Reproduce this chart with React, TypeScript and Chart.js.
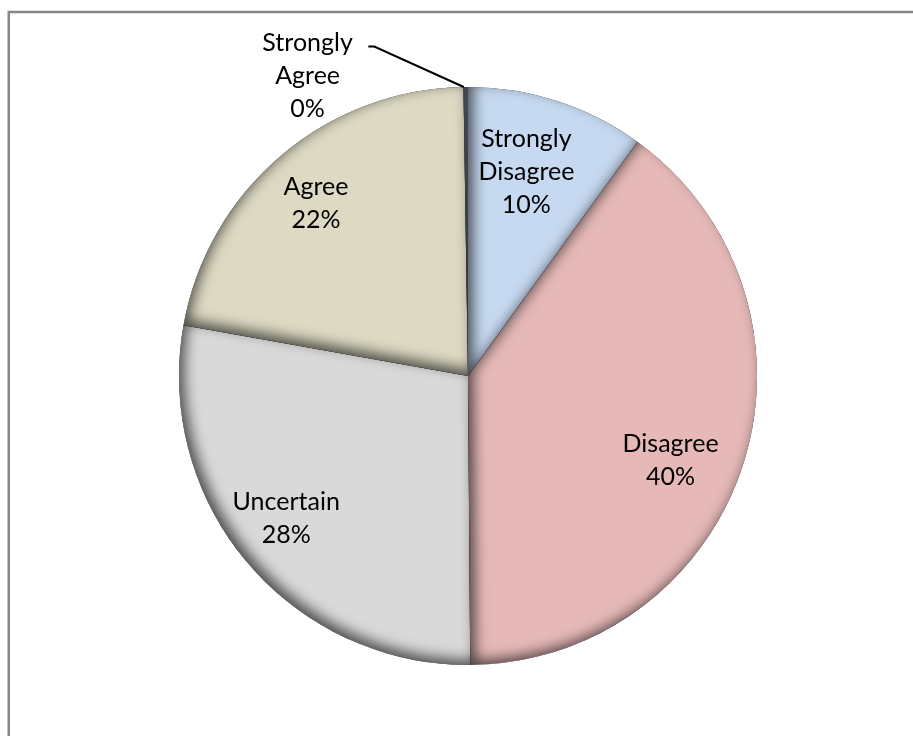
import React, { useEffect, useRef } from "react";
import { Chart, registerables } from "chart.js";

Chart.register(...registerables);

const categories = ["Strongly Disagree", "Disagree", "Uncertain", "Agree", "Strongly Agree"];
const labelLines = [["Strongly", "Disagree"], ["Disagree"], ["Uncertain"], ["Agree"], ["Strongly", "Agree"]];
const values = [10, 40, 28, 22, 0.25];
const percentLabels = ["10%", "40%", "28%", "22%", "0%"];
const colors = ["#c6d9f1", "#e6b9b8", "#d9d9d9", "#ddd9c3", "#8a96a6"];

// label placement styling (radial fraction, angle shift in degrees)
const labelRadius = [0.735, 0.76, 0.8, 0.795, 1];
const labelAngleShift = [-2, 5, 2, -1, 0];

const FONT = "25px Lato, 'Open Sans', sans-serif";
const LINE_H = 33;

const framePlugin = {
  id: "frame",
  beforeDraw(chart: any) {
    const ctx = chart.ctx;
    ctx.save();
    ctx.fillStyle = "#ffffff";
    ctx.fillRect(0, 0, chart.width, chart.height);
    ctx.strokeStyle = "#878787";
    ctx.lineWidth = 2.5;
    ctx.beginPath();
    ctx.moveTo(8.75, chart.height + 5);
    ctx.lineTo(8.75, 12);
    ctx.lineTo(chart.width + 5, 12);
    ctx.stroke();
    ctx.restore();
  },
};

const bevelPlugin = {
  id: "bevel",
  afterDatasetsDraw(chart: any) {
    const ctx = chart.ctx;
    const meta = chart.getDatasetMeta(0);
    meta.data.forEach((arc: any) => {
      const { x, y, startAngle, endAngle, outerRadius } = arc.getProps(
        ["x", "y", "startAngle", "endAngle", "outerRadius"],
        true
      );
      ctx.save();
      ctx.beginPath();
      ctx.moveTo(x, y);
      ctx.arc(x, y, outerRadius, startAngle, endAngle);
      ctx.closePath();
      ctx.clip();
      ctx.beginPath();
      ctx.rect(-2000, -2000, 5000, 5000);
      ctx.moveTo(x, y);
      ctx.arc(x, y, outerRadius, endAngle, startAngle, true);
      ctx.closePath();
      ctx.shadowColor = "rgba(0,0,0,0.65)";
      ctx.shadowBlur = 14;
      ctx.shadowOffsetX = 5;
      ctx.shadowOffsetY = -5;
      ctx.fillStyle = "rgba(0,0,0,1)";
      ctx.fill("evenodd");
      ctx.restore();
    });
  },
};

const labelPlugin = {
  id: "sliceLabels",
  afterDraw(chart: any) {
    const ctx = chart.ctx;
    const meta = chart.getDatasetMeta(0);
    ctx.save();
    ctx.font = FONT;
    ctx.fillStyle = "#000000";
    ctx.textAlign = "center";
    ctx.textBaseline = "middle";
    meta.data.forEach((arc: any, i: number) => {
      const { x, y, startAngle, endAngle, outerRadius } = arc.getProps(
        ["x", "y", "startAngle", "endAngle", "outerRadius"],
        true
      );
      const mid = (startAngle + endAngle) / 2 + (labelAngleShift[i] * Math.PI) / 180;
      const lines = [...labelLines[i], percentLabels[i]];
      let lx: number, ly: number;
      if (values[i] < 2) {
        const ex = x + Math.cos(mid) * outerRadius;
        const ey = y + Math.sin(mid) * outerRadius;
        const bx = x - outerRadius * 0.345;
        const by = y - outerRadius * 1.14;
        ctx.strokeStyle = "#000000";
        ctx.lineWidth = 2;
        ctx.beginPath();
        ctx.moveTo(ex - 2, ey);
        ctx.lineTo(bx + 6, by);
        ctx.lineTo(bx, by);
        ctx.stroke();
        lx = x - outerRadius * 0.555;
        ly = y - outerRadius * 1.04;
      } else {
        const rf = labelRadius[i];
        lx = x + Math.cos(mid) * outerRadius * rf;
        ly = y + Math.sin(mid) * outerRadius * rf;
      }
      const top = ly - ((lines.length - 1) * LINE_H) / 2;
      lines.forEach((t, k) => ctx.fillText(t, lx, top + k * LINE_H));
    });
    ctx.restore();
  },
};

export default function App() {
  const ref = useRef<HTMLCanvasElement | null>(null);
  useEffect(() => {
    if (!ref.current) return;
    const chart = new Chart(ref.current, {
      type: "pie",
      data: {
        labels: categories,
        datasets: [
          {
            data: values,
            backgroundColor: colors,
            borderWidth: 0,
          },
        ],
      },
      options: {
        animation: false,
        responsive: false,
        layout: { padding: { left: 179, right: 156, top: 87, bottom: 71 } },
        plugins: {
          legend: { display: false },
          tooltip: { enabled: false },
        },
      },
      plugins: [framePlugin, bevelPlugin, labelPlugin],
    });
    return () => chart.destroy();
  }, []);
  return (
    <div style={{ position: "fixed", left: 0, top: 0, width: 913, height: 736 }}>
      <canvas ref={ref} width={913} height={736} style={{ display: "block" }} />
    </div>
  );
}
